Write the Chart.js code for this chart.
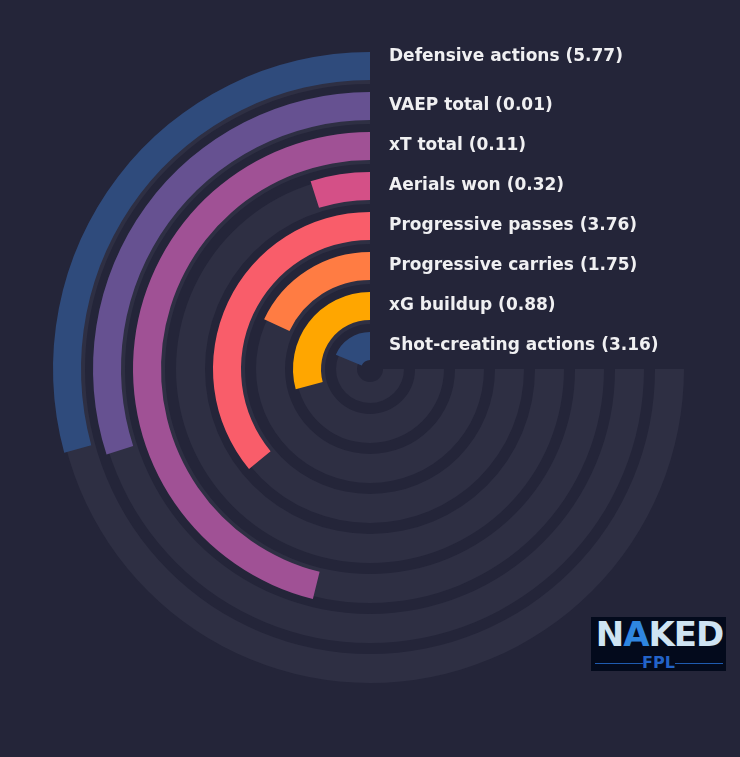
<!DOCTYPE html>
<html>
<head>
<meta charset="utf-8">
<script src="https://cdn.jsdelivr.net/npm/chart.js@4.4.0/dist/chart.umd.min.js"></script>
<style>
  html, body { margin: 0; padding: 0; background: #242539; }
  #wrap { position: relative; width: 740px; height: 757px; overflow: hidden; }
  #wrap canvas { position: absolute; left: 0; top: 0; }
  #logo {
    position: absolute; left: 591px; top: 617px; width: 135px; height: 54px;
    background: #030a1c; font-family: "DejaVu Sans", sans-serif; overflow: hidden;
  }
  #logo .name {
    position: absolute; left: 1px; top: -1px; width: 135px; text-align: center;
    font-weight: bold; font-size: 34px; letter-spacing: -1px; color: #cfe4f3; line-height: 36px;
  }
  #logo .name span { color: #2f86e0; }
  #logo .fpl {
    position: absolute; left: 0; top: 37px; width: 135px; text-align: center;
    font-weight: bold; font-size: 16px; color: #2363c8; line-height: 18px;
  }
  #logo .line { position: absolute; top: 46px; height: 1px; background: #1f5bb0; width: 48px; }
</style>
</head>
<body>
<div id="wrap">
  <canvas id="tracks" width="740" height="757"></canvas>
  <canvas id="bars" width="740" height="757"></canvas>
  <div id="logo">
    <div class="name">N<span>A</span>KED</div>
    <div class="line" style="left:4px"></div>
    <div class="fpl">FPL</div>
    <div class="line" style="left:84px"></div>
  </div>
</div>
<script>
// Metrics, outer ring first
const categories = [
  "Defensive actions", "VAEP total", "xT total", "Aerials won",
  "Progressive passes", "Progressive carries", "xG buildup", "Shot-creating actions"
];
const values = [5.77, 0.01, 0.11, 0.32, 3.76, 1.75, 0.88, 3.16];
// percentile of each metric (share of the 270° track)
const percentiles = [39, 40, 61.5, 6.5, 48, 24, 39, 25];

const colors = ["#2f4b7c", "#665191", "#a05195", "#d45087", "#f95d6a", "#ff7c43", "#ffa600", "#2f4b7c"];
const trackColor = "#2e2f43";
const clear = "rgba(0,0,0,0)";

const padding = { left: 53, right: 53, top: 52, bottom: 71 };
const baseOptions = {
  responsive: false,
  animation: false,
  events: [],
  rotation: 90,
  circumference: 270,
  layout: { padding },
  plugins: { legend: { display: false }, tooltip: { enabled: false } },
};

// Track rings (full 270°), sitting a little inside each bar
const trackSets = [{ data: [1], backgroundColor: [clear], borderWidth: 0, weight: 3 }];
categories.forEach((c, i) => {
  const last = i === categories.length - 1;
  trackSets.push({ data: [1], backgroundColor: [trackColor], borderWidth: 0, weight: last ? 21 : 29 });
  if (!last) trackSets.push({ data: [1], backgroundColor: [clear], borderWidth: 0, weight: 11 });
});

new Chart(document.getElementById("tracks"), {
  type: "doughnut",
  data: { datasets: trackSets },
  options: { ...baseOptions, cutout: (13 / 317 * 100) + "%" },
});

// Bars, each ending at 12 o'clock
const barSets = [];
const barIndex = [];
categories.forEach((c, i) => {
  barIndex.push(barSets.length);
  barSets.push({
    data: [100 - percentiles[i], percentiles[i]],
    backgroundColor: [clear, colors[i]],
    borderWidth: 0,
    weight: 28,
  });
  if (i < categories.length - 1)
    barSets.push({ data: [1], backgroundColor: [clear], borderWidth: 0, weight: 12 });
});

const labelPlugin = {
  id: "ringLabels",
  afterDatasetsDraw(chart) {
    const ctx = chart.ctx;
    ctx.save();
    ctx.font = "bold 17px 'DejaVu Sans'";
    ctx.fillStyle = "#f0f0f2";
    ctx.textBaseline = "middle";
    ctx.textAlign = "left";
    barIndex.forEach((di, i) => {
      const arc = chart.getDatasetMeta(di).data[1];
      const mid = (arc.outerRadius + arc.innerRadius) / 2;
      const y = arc.y - mid - (i === 0 ? 9 : 0);
      ctx.fillText(`${categories[i]} (${values[i].toFixed(2)})`, arc.x + 19, y);
    });
    ctx.restore();
  },
};

new Chart(document.getElementById("bars"), {
  type: "doughnut",
  data: { datasets: barSets },
  options: { ...baseOptions, cutout: (9 / 317 * 100) + "%" },
  plugins: [labelPlugin],
});
</script>
</body>
</html>
